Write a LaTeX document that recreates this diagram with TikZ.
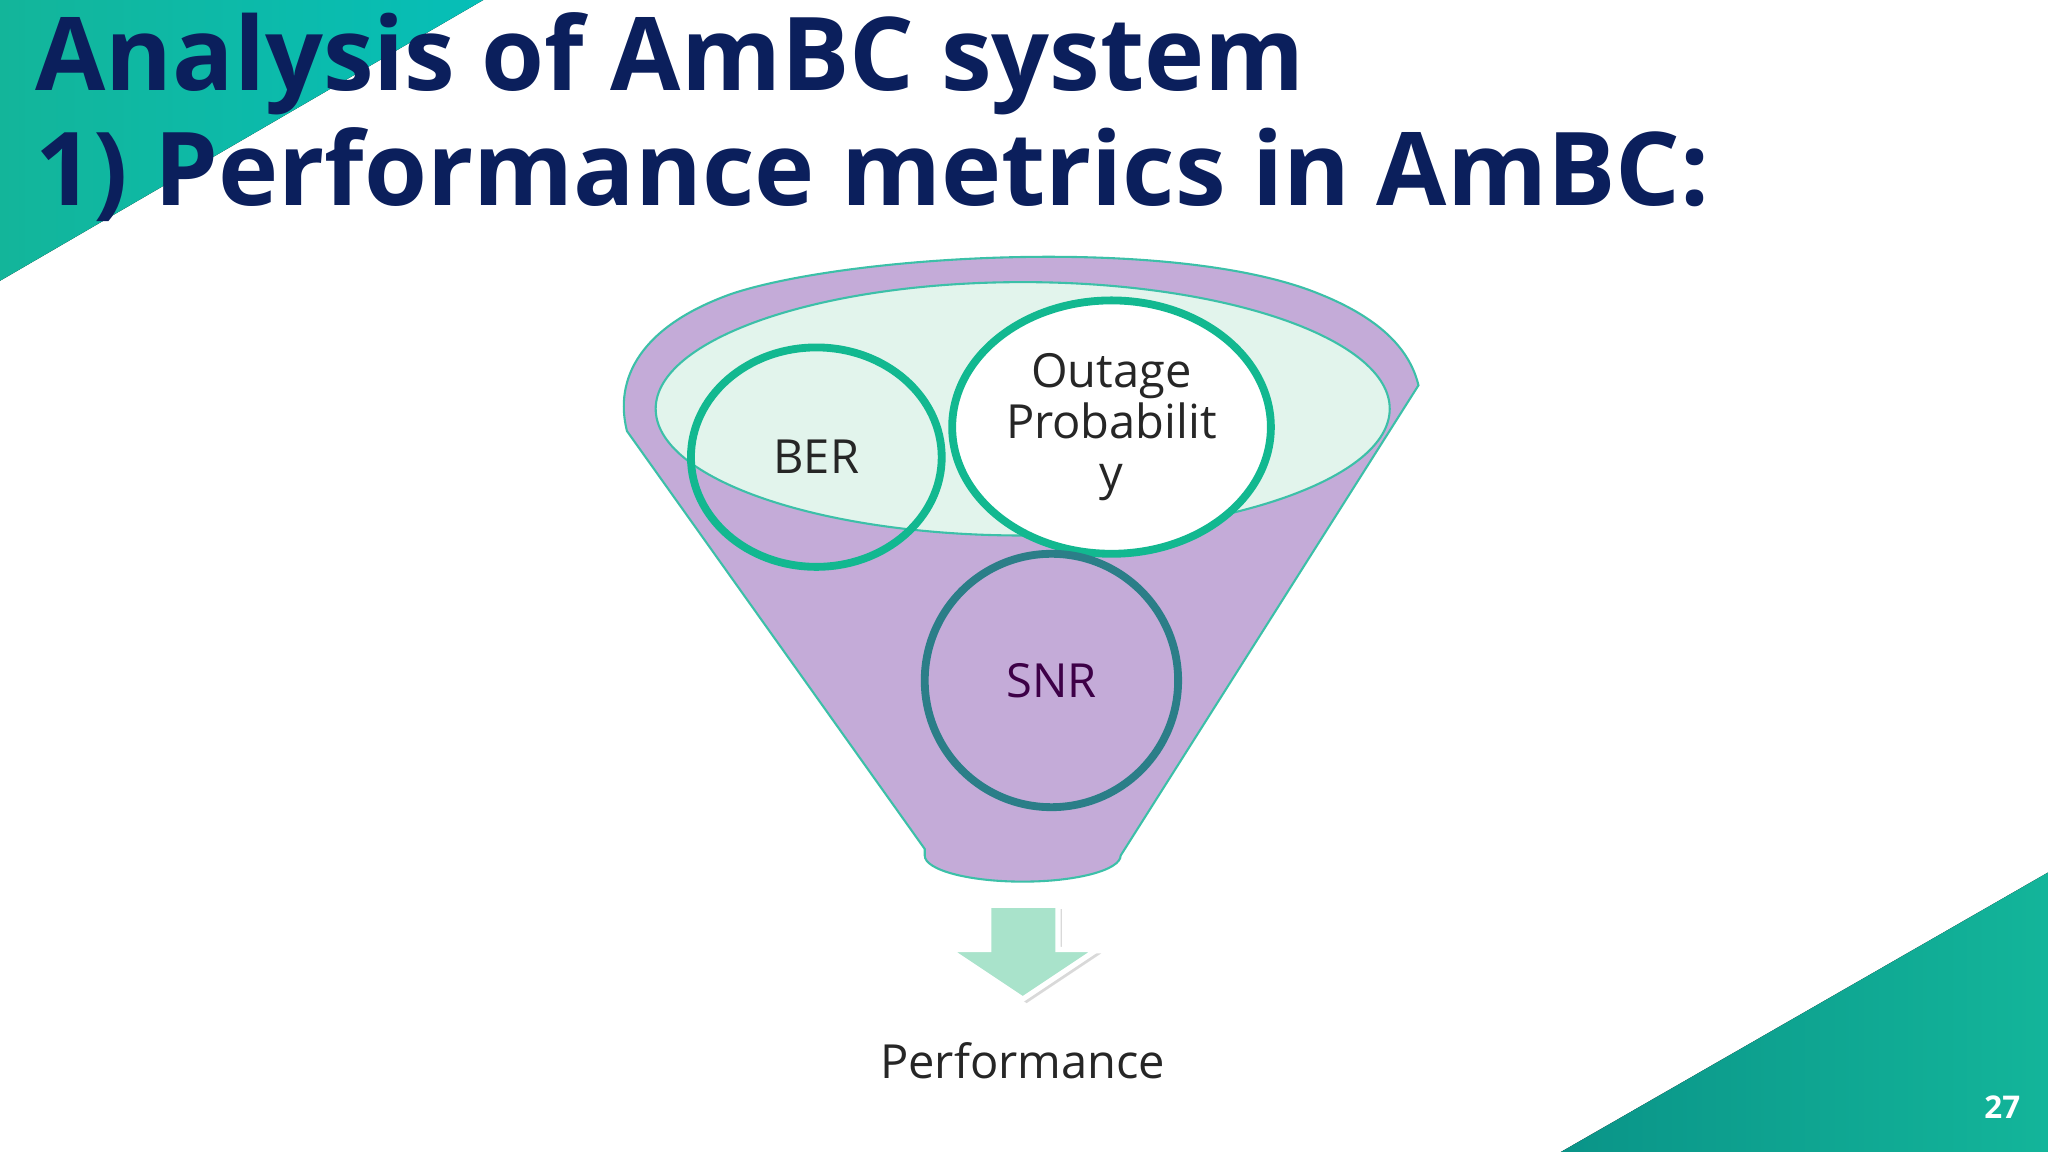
\documentclass[tikz,border=0pt]{standalone}
\usepackage{fontspec}
\setmainfont{Open Sans}
\definecolor{navy}{HTML}{0B1F5C}
\definecolor{teal1}{HTML}{13B59A}
\definecolor{teal2}{HTML}{0A9488}
\definecolor{purp}{HTML}{C4ABD8}
\definecolor{rim}{HTML}{3CC0A8}
\definecolor{inner}{HTML}{E2F4EC}
\definecolor{ring}{HTML}{12B890}
\definecolor{ringd}{HTML}{2B7E88}
\definecolor{arr}{HTML}{A9E3CB}
\tikzset{lab/.style={font=\fontsize{18}{20}\selectfont, text=black!85, align=center},
 circ/.style={line width=3pt}}
\begin{document}
\begin{tikzpicture}[x=0.5pt,y=-0.5pt]
\useasboundingbox (0,0) rectangle (1568,882);
\fill[left color=teal1, right color=teal2!60!cyan] (0,0) -- (370,0) -- (0,215) -- cycle;
\fill[left color=teal2, right color=teal1] (1568,668) -- (1568,882) -- (1195,882) -- cycle;
\node[text=white, font=\bfseries\fontsize{12}{14}\selectfont] (pg) at (1533,848) {27};
\node[anchor=west, text=navy, font=\bfseries\fontsize{39}{44}\selectfont, align=left] (t) at (20,90) {Analysis of AmBC system\\1) Performance metrics in AmBC:};
% funnel
\fill[purp, draw=rim, line width=0.8pt] (1086,295) -- (858,655) arc[start angle=0, end angle=180, x radius=75, y radius=20] -- (708,650) -- (480,330)
  .. controls (470,290) and (490,250) .. (560,225) .. controls (650,195) and (900,180) .. (1010,225) .. controls (1060,245) and (1080,270) .. (1086,295) -- cycle;
\fill[inner, draw=rim, line width=0.8pt] (783,313) ellipse[x radius=281, y radius=97];
\draw[ring, circ] (625,350) ellipse[x radius=96, y radius=84];
\node[lab] (ber) at (625,350) {BER};
\draw[ring, circ, fill=white] (851,327) ellipse[x radius=122, y radius=97];
\node[lab, font=\fontsize{18}{19.5}\selectfont] (out) at (851,327) {Outage\\Probabilit\\y};
\draw[ringd, circ] (805,521) ellipse[x radius=97, y radius=97];
\node[lab, text=black!60!purple!80!blue] (snr) at (805,521) {SNR};
% arrow
\fill[black!15] (760,696) -- (813,696) -- (813,730) -- (843,730) -- (786,768) -- (729,730) -- (760,730) -- cycle;
\fill[arr, draw=white, line width=2pt] (757,693) -- (810,693) -- (810,727) -- (840,727) -- (783,765) -- (726,727) -- (757,727) -- cycle;
\node[lab] (perf) at (783,812) {Performance};
\end{tikzpicture}
\end{document}
